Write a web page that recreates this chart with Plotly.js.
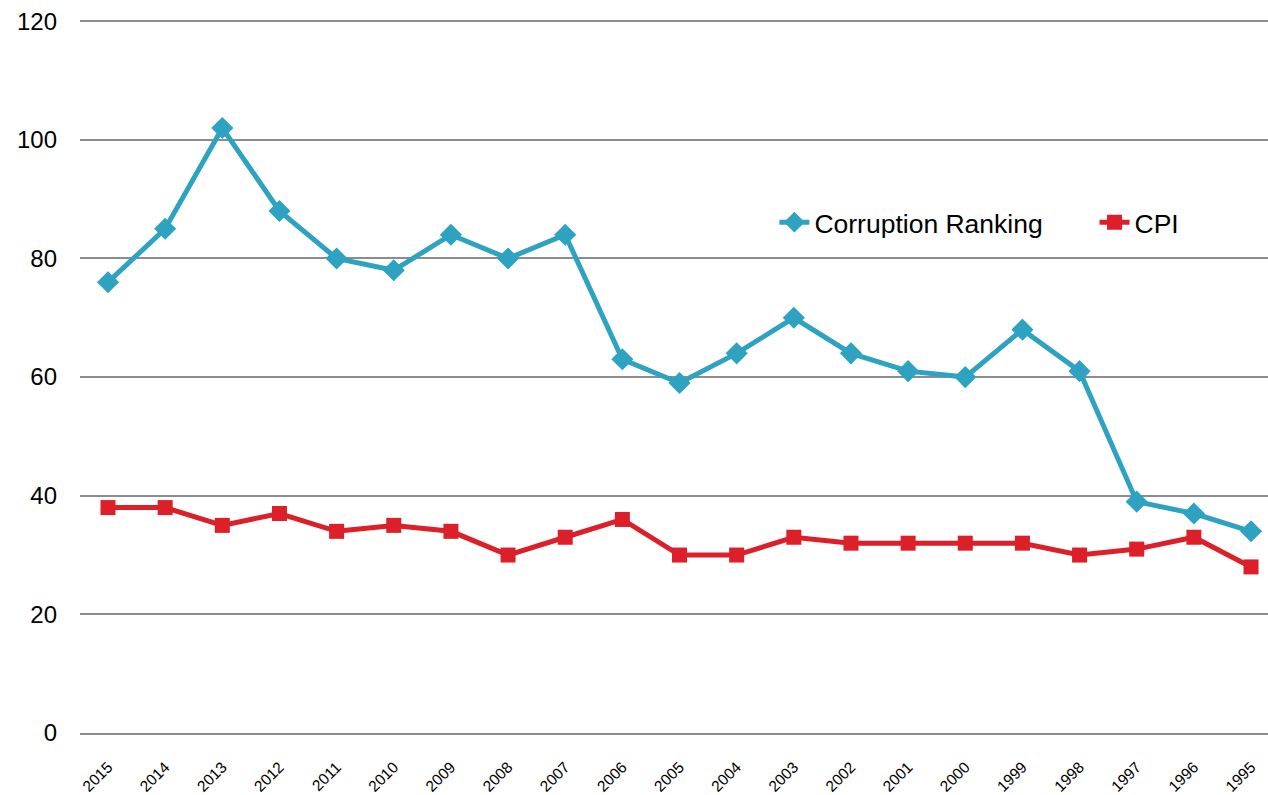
<!DOCTYPE html>
<html>
<head>
<meta charset="utf-8">
<script src="https://cdn.plot.ly/plotly-3.0.1.min.js"></script>
<style>html,body{margin:0;padding:0;background:#fff;}#chart{width:1268px;height:795px;}</style>
</head>
<body>
<div id="chart"></div>
<script>
const years = ["2015","2014","2013","2012","2011","2010","2009","2008","2007","2006","2005","2004","2003","2002","2001","2000","1999","1998","1997","1996","1995"];
const corruptionRanking = [76,85,102,88,80,78,84,80,84,63,59,64,70,64,61,60,68,61,39,37,34];
const cpi = [38,38,35,37,34,35,34,30,33,36,30,30,33,32,32,32,32,30,31,33,28];
const yTicks = [0,20,40,60,80,100,120];

const traces = [
  {x: years, y: corruptionRanking, name: "Corruption Ranking", type: "scatter", mode: "lines+markers",
   line: {color: "#2ea3c1", width: 5}, marker: {symbol: "diamond", size: 17, color: "#2ea3c1"}, legend: "legend"},
  {x: years, y: cpi, name: "CPI", type: "scatter", mode: "lines+markers",
   line: {color: "#dc1f28", width: 5}, marker: {symbol: "square", size: 15, color: "#dc1f28"}, legend: "legend2"}
];

const legendBase = {orientation: "h", xanchor: "left", yanchor: "middle", y: 0.716,
  font: {size: 26.5, color: "#000"}, bgcolor: "rgba(0,0,0,0)"};

const layout = {
  width: 1268, height: 795,
  margin: {l: 80, r: 0, t: 20, b: 62, autoexpand: false},
  paper_bgcolor: "#fff", plot_bgcolor: "#fff",
  font: {family: "Liberation Sans, Arial, sans-serif", color: "#000"},
  showlegend: true,
  legend: Object.assign({}, legendBase, {x: 0.5845}),
  legend2: Object.assign({}, legendBase, {x: 0.854}),
  xaxis: {type: "category", range: [-0.49, 20.297], tickangle: -45, tickfont: {size: 15.5},
          showgrid: false, showline: true, linecolor: "#8c8c8c", linewidth: 2, ticks: "",
          ticklabelstandoff: 17, fixedrange: true, automargin: false},
  yaxis: {range: [0, 120.2], tickvals: yTicks, ticktext: yTicks.map(String), tickfont: {size: 24},
          showgrid: true, gridcolor: "#8c8c8c", gridwidth: 2, zeroline: false, showline: false,
          ticks: "", ticklabelstandoff: 22, fixedrange: true, automargin: false}
};

Plotly.newPlot("chart", traces, layout, {displayModeBar: false, staticPlot: true});
</script>
</body>
</html>
